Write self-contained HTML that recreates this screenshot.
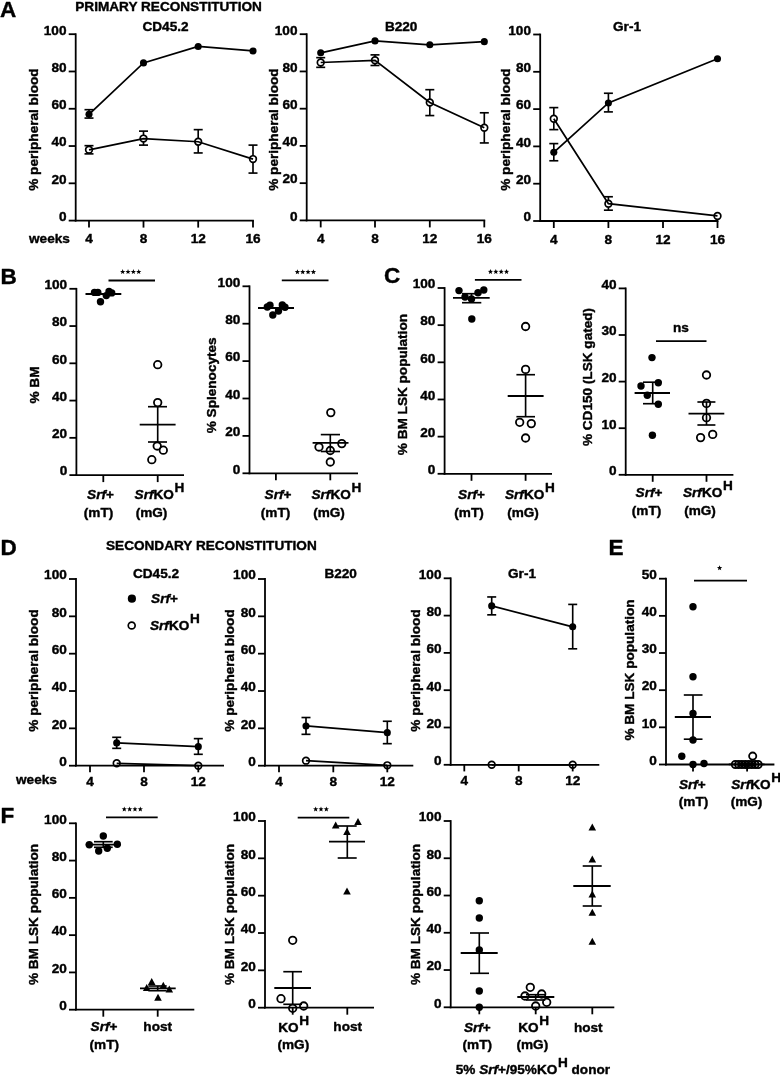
<!DOCTYPE html>
<html><head><meta charset="utf-8"><title>Figure</title>
<style>
html,body{margin:0;padding:0;background:#fff;}
svg{display:block;will-change:transform;filter:grayscale(1);}
text{font-family:"Liberation Sans",sans-serif;font-weight:bold;fill:#000;stroke:#000;stroke-width:0.4px;stroke-linejoin:round;}
</style></head><body>
<svg width="780" height="1076" viewBox="0 0 780 1076">
<rect width="780" height="1076" fill="#fff"/>
<text x="0.00" y="16.50" font-size="22.5" text-anchor="start" >A</text>
<text x="75.30" y="10.60" font-size="13.6" text-anchor="start" >PRIMARY RECONSTITUTION</text>
<line x1="75.70" y1="33.30" x2="75.70" y2="221.50" stroke="#000" stroke-width="1.8"/>
<line x1="74.80" y1="220.60" x2="253.90" y2="220.60" stroke="#000" stroke-width="1.8"/>
<line x1="68.70" y1="34.20" x2="75.70" y2="34.20" stroke="#000" stroke-width="1.8"/>
<text x="66.50" y="34.50" font-size="13.6" text-anchor="end" >100</text>
<line x1="68.70" y1="71.48" x2="75.70" y2="71.48" stroke="#000" stroke-width="1.8"/>
<text x="66.50" y="71.78" font-size="13.6" text-anchor="end" >80</text>
<line x1="68.70" y1="108.76" x2="75.70" y2="108.76" stroke="#000" stroke-width="1.8"/>
<text x="66.50" y="109.06" font-size="13.6" text-anchor="end" >60</text>
<line x1="68.70" y1="146.04" x2="75.70" y2="146.04" stroke="#000" stroke-width="1.8"/>
<text x="66.50" y="146.34" font-size="13.6" text-anchor="end" >40</text>
<line x1="68.70" y1="183.32" x2="75.70" y2="183.32" stroke="#000" stroke-width="1.8"/>
<text x="66.50" y="183.62" font-size="13.6" text-anchor="end" >20</text>
<line x1="68.70" y1="220.60" x2="75.70" y2="220.60" stroke="#000" stroke-width="1.8"/>
<text x="66.50" y="220.90" font-size="13.6" text-anchor="end" >0</text>
<line x1="89.00" y1="220.60" x2="89.00" y2="227.60" stroke="#000" stroke-width="1.8"/>
<text x="89.00" y="243.10" font-size="13.6" text-anchor="middle" >4</text>
<line x1="143.50" y1="220.60" x2="143.50" y2="227.60" stroke="#000" stroke-width="1.8"/>
<text x="143.50" y="243.10" font-size="13.6" text-anchor="middle" >8</text>
<line x1="198.20" y1="220.60" x2="198.20" y2="227.60" stroke="#000" stroke-width="1.8"/>
<text x="198.20" y="243.10" font-size="13.6" text-anchor="middle" >12</text>
<line x1="253.00" y1="220.60" x2="253.00" y2="227.60" stroke="#000" stroke-width="1.8"/>
<text x="253.00" y="243.10" font-size="13.6" text-anchor="middle" >16</text>
<text x="165.50" y="31.00" font-size="13.6" text-anchor="middle" >CD45.2</text>
<text transform="translate(38.00,129.60) rotate(-90)" font-size="13.6" text-anchor="middle">% peripheral blood</text>
<text x="29.00" y="243.20" font-size="13.6" text-anchor="start" >weeks</text>
<line x1="89.00" y1="118.08" x2="89.00" y2="109.69" stroke="#000" stroke-width="1.65"/>
<line x1="84.50" y1="118.08" x2="93.50" y2="118.08" stroke="#000" stroke-width="1.65"/>
<line x1="84.50" y1="109.69" x2="93.50" y2="109.69" stroke="#000" stroke-width="1.65"/>
<line x1="89.00" y1="153.87" x2="89.00" y2="145.67" stroke="#000" stroke-width="1.65"/>
<line x1="84.50" y1="153.87" x2="93.50" y2="153.87" stroke="#000" stroke-width="1.65"/>
<line x1="84.50" y1="145.67" x2="93.50" y2="145.67" stroke="#000" stroke-width="1.65"/>
<line x1="143.50" y1="145.11" x2="143.50" y2="131.13" stroke="#000" stroke-width="1.65"/>
<line x1="139.00" y1="145.11" x2="148.00" y2="145.11" stroke="#000" stroke-width="1.65"/>
<line x1="139.00" y1="131.13" x2="148.00" y2="131.13" stroke="#000" stroke-width="1.65"/>
<line x1="198.20" y1="152.94" x2="198.20" y2="129.64" stroke="#000" stroke-width="1.65"/>
<line x1="193.70" y1="152.94" x2="202.70" y2="152.94" stroke="#000" stroke-width="1.65"/>
<line x1="193.70" y1="129.64" x2="202.70" y2="129.64" stroke="#000" stroke-width="1.65"/>
<line x1="253.00" y1="173.07" x2="253.00" y2="145.11" stroke="#000" stroke-width="1.65"/>
<line x1="248.50" y1="173.07" x2="257.50" y2="173.07" stroke="#000" stroke-width="1.65"/>
<line x1="248.50" y1="145.11" x2="257.50" y2="145.11" stroke="#000" stroke-width="1.65"/>
<circle cx="89.00" cy="149.77" r="3.35" fill="#fff" stroke="#000" stroke-width="1.7"/>
<circle cx="143.50" cy="138.58" r="3.35" fill="#fff" stroke="#000" stroke-width="1.7"/>
<circle cx="198.20" cy="141.75" r="3.35" fill="#fff" stroke="#000" stroke-width="1.7"/>
<circle cx="253.00" cy="159.09" r="3.35" fill="#fff" stroke="#000" stroke-width="1.7"/>
<polyline fill="none" stroke="#000" stroke-width="1.75" points="89.00,114.35 143.50,62.91 198.20,46.50 253.00,50.98"/>
<polyline fill="none" stroke="#000" stroke-width="1.75" points="89.00,149.77 143.50,138.58 198.20,141.75 253.00,159.09"/>
<circle cx="89.00" cy="114.35" r="3.55" fill="#000"/>
<circle cx="143.50" cy="62.91" r="3.55" fill="#000"/>
<circle cx="198.20" cy="46.50" r="3.55" fill="#000"/>
<circle cx="253.00" cy="50.98" r="3.55" fill="#000"/>
<line x1="306.70" y1="33.30" x2="306.70" y2="221.30" stroke="#000" stroke-width="1.8"/>
<line x1="305.80" y1="220.40" x2="485.20" y2="220.40" stroke="#000" stroke-width="1.8"/>
<line x1="299.70" y1="34.20" x2="306.70" y2="34.20" stroke="#000" stroke-width="1.8"/>
<text x="297.50" y="34.50" font-size="13.6" text-anchor="end" >100</text>
<line x1="299.70" y1="71.44" x2="306.70" y2="71.44" stroke="#000" stroke-width="1.8"/>
<text x="297.50" y="71.74" font-size="13.6" text-anchor="end" >80</text>
<line x1="299.70" y1="108.68" x2="306.70" y2="108.68" stroke="#000" stroke-width="1.8"/>
<text x="297.50" y="108.98" font-size="13.6" text-anchor="end" >60</text>
<line x1="299.70" y1="145.92" x2="306.70" y2="145.92" stroke="#000" stroke-width="1.8"/>
<text x="297.50" y="146.22" font-size="13.6" text-anchor="end" >40</text>
<line x1="299.70" y1="183.16" x2="306.70" y2="183.16" stroke="#000" stroke-width="1.8"/>
<text x="297.50" y="183.46" font-size="13.6" text-anchor="end" >20</text>
<line x1="299.70" y1="220.40" x2="306.70" y2="220.40" stroke="#000" stroke-width="1.8"/>
<text x="297.50" y="220.70" font-size="13.6" text-anchor="end" >0</text>
<line x1="320.70" y1="220.40" x2="320.70" y2="227.40" stroke="#000" stroke-width="1.8"/>
<text x="320.70" y="242.90" font-size="13.6" text-anchor="middle" >4</text>
<line x1="375.00" y1="220.40" x2="375.00" y2="227.40" stroke="#000" stroke-width="1.8"/>
<text x="375.00" y="242.90" font-size="13.6" text-anchor="middle" >8</text>
<line x1="429.80" y1="220.40" x2="429.80" y2="227.40" stroke="#000" stroke-width="1.8"/>
<text x="429.80" y="242.90" font-size="13.6" text-anchor="middle" >12</text>
<line x1="484.30" y1="220.40" x2="484.30" y2="227.40" stroke="#000" stroke-width="1.8"/>
<text x="484.30" y="242.90" font-size="13.6" text-anchor="middle" >16</text>
<text x="401.20" y="31.00" font-size="13.6" text-anchor="middle" >B220</text>
<text transform="translate(277.50,129.60) rotate(-90)" font-size="13.6" text-anchor="middle">% peripheral blood</text>
<line x1="320.70" y1="67.34" x2="320.70" y2="57.66" stroke="#000" stroke-width="1.65"/>
<line x1="316.20" y1="67.34" x2="325.20" y2="67.34" stroke="#000" stroke-width="1.65"/>
<line x1="316.20" y1="57.66" x2="325.20" y2="57.66" stroke="#000" stroke-width="1.65"/>
<line x1="375.00" y1="65.48" x2="375.00" y2="54.87" stroke="#000" stroke-width="1.65"/>
<line x1="370.50" y1="65.48" x2="379.50" y2="65.48" stroke="#000" stroke-width="1.65"/>
<line x1="370.50" y1="54.87" x2="379.50" y2="54.87" stroke="#000" stroke-width="1.65"/>
<line x1="429.80" y1="115.57" x2="429.80" y2="89.69" stroke="#000" stroke-width="1.65"/>
<line x1="425.30" y1="115.57" x2="434.30" y2="115.57" stroke="#000" stroke-width="1.65"/>
<line x1="425.30" y1="89.69" x2="434.30" y2="89.69" stroke="#000" stroke-width="1.65"/>
<line x1="484.30" y1="142.94" x2="484.30" y2="112.78" stroke="#000" stroke-width="1.65"/>
<line x1="479.80" y1="142.94" x2="488.80" y2="142.94" stroke="#000" stroke-width="1.65"/>
<line x1="479.80" y1="112.78" x2="488.80" y2="112.78" stroke="#000" stroke-width="1.65"/>
<circle cx="320.70" cy="62.50" r="3.35" fill="#fff" stroke="#000" stroke-width="1.7"/>
<circle cx="375.00" cy="60.27" r="3.35" fill="#fff" stroke="#000" stroke-width="1.7"/>
<circle cx="429.80" cy="102.54" r="3.35" fill="#fff" stroke="#000" stroke-width="1.7"/>
<circle cx="484.30" cy="127.67" r="3.35" fill="#fff" stroke="#000" stroke-width="1.7"/>
<polyline fill="none" stroke="#000" stroke-width="1.75" points="320.70,52.82 375.00,40.90 429.80,44.81 484.30,41.65"/>
<polyline fill="none" stroke="#000" stroke-width="1.75" points="320.70,62.50 375.00,60.27 429.80,102.54 484.30,127.67"/>
<circle cx="320.70" cy="52.82" r="3.55" fill="#000"/>
<circle cx="375.00" cy="40.90" r="3.55" fill="#000"/>
<circle cx="429.80" cy="44.81" r="3.55" fill="#000"/>
<circle cx="484.30" cy="41.65" r="3.55" fill="#000"/>
<line x1="540.20" y1="33.60" x2="540.20" y2="221.90" stroke="#000" stroke-width="1.8"/>
<line x1="539.30" y1="221.00" x2="718.40" y2="221.00" stroke="#000" stroke-width="1.8"/>
<line x1="533.20" y1="34.50" x2="540.20" y2="34.50" stroke="#000" stroke-width="1.8"/>
<text x="531.00" y="34.80" font-size="13.6" text-anchor="end" >100</text>
<line x1="533.20" y1="71.80" x2="540.20" y2="71.80" stroke="#000" stroke-width="1.8"/>
<text x="531.00" y="72.10" font-size="13.6" text-anchor="end" >80</text>
<line x1="533.20" y1="109.10" x2="540.20" y2="109.10" stroke="#000" stroke-width="1.8"/>
<text x="531.00" y="109.40" font-size="13.6" text-anchor="end" >60</text>
<line x1="533.20" y1="146.40" x2="540.20" y2="146.40" stroke="#000" stroke-width="1.8"/>
<text x="531.00" y="146.70" font-size="13.6" text-anchor="end" >40</text>
<line x1="533.20" y1="183.70" x2="540.20" y2="183.70" stroke="#000" stroke-width="1.8"/>
<text x="531.00" y="184.00" font-size="13.6" text-anchor="end" >20</text>
<line x1="533.20" y1="221.00" x2="540.20" y2="221.00" stroke="#000" stroke-width="1.8"/>
<text x="531.00" y="221.30" font-size="13.6" text-anchor="end" >0</text>
<line x1="553.80" y1="221.00" x2="553.80" y2="228.00" stroke="#000" stroke-width="1.8"/>
<text x="553.80" y="243.50" font-size="13.6" text-anchor="middle" >4</text>
<line x1="608.40" y1="221.00" x2="608.40" y2="228.00" stroke="#000" stroke-width="1.8"/>
<text x="608.40" y="243.50" font-size="13.6" text-anchor="middle" >8</text>
<line x1="663.00" y1="221.00" x2="663.00" y2="228.00" stroke="#000" stroke-width="1.8"/>
<text x="663.00" y="243.50" font-size="13.6" text-anchor="middle" >12</text>
<line x1="717.50" y1="221.00" x2="717.50" y2="228.00" stroke="#000" stroke-width="1.8"/>
<text x="717.50" y="243.50" font-size="13.6" text-anchor="middle" >16</text>
<text x="627.00" y="31.00" font-size="13.6" text-anchor="middle" >Gr-1</text>
<text transform="translate(510.00,129.60) rotate(-90)" font-size="13.6" text-anchor="middle">% peripheral blood</text>
<line x1="553.80" y1="160.76" x2="553.80" y2="143.60" stroke="#000" stroke-width="1.65"/>
<line x1="549.30" y1="160.76" x2="558.30" y2="160.76" stroke="#000" stroke-width="1.65"/>
<line x1="549.30" y1="143.60" x2="558.30" y2="143.60" stroke="#000" stroke-width="1.65"/>
<line x1="608.40" y1="111.90" x2="608.40" y2="93.25" stroke="#000" stroke-width="1.65"/>
<line x1="603.90" y1="111.90" x2="612.90" y2="111.90" stroke="#000" stroke-width="1.65"/>
<line x1="603.90" y1="93.25" x2="612.90" y2="93.25" stroke="#000" stroke-width="1.65"/>
<line x1="553.80" y1="129.62" x2="553.80" y2="107.61" stroke="#000" stroke-width="1.65"/>
<line x1="549.30" y1="129.62" x2="558.30" y2="129.62" stroke="#000" stroke-width="1.65"/>
<line x1="549.30" y1="107.61" x2="558.30" y2="107.61" stroke="#000" stroke-width="1.65"/>
<line x1="608.40" y1="210.18" x2="608.40" y2="196.75" stroke="#000" stroke-width="1.65"/>
<line x1="603.90" y1="210.18" x2="612.90" y2="210.18" stroke="#000" stroke-width="1.65"/>
<line x1="603.90" y1="196.75" x2="612.90" y2="196.75" stroke="#000" stroke-width="1.65"/>
<circle cx="553.80" cy="118.80" r="3.35" fill="#fff" stroke="#000" stroke-width="1.7"/>
<circle cx="608.40" cy="203.66" r="3.35" fill="#fff" stroke="#000" stroke-width="1.7"/>
<circle cx="717.50" cy="215.96" r="3.35" fill="#fff" stroke="#000" stroke-width="1.7"/>
<polyline fill="none" stroke="#000" stroke-width="1.75" points="553.80,152.37 608.40,102.95 717.50,58.75"/>
<polyline fill="none" stroke="#000" stroke-width="1.75" points="553.80,118.80 608.40,203.66 717.50,215.96"/>
<circle cx="553.80" cy="152.37" r="3.55" fill="#000"/>
<circle cx="608.40" cy="102.95" r="3.55" fill="#000"/>
<circle cx="717.50" cy="58.75" r="3.55" fill="#000"/>
<text x="0.50" y="283.80" font-size="22.5" text-anchor="start" >B</text>
<line x1="76.40" y1="287.90" x2="76.40" y2="476.00" stroke="#000" stroke-width="1.8"/>
<line x1="75.50" y1="475.10" x2="184.00" y2="475.10" stroke="#000" stroke-width="1.8"/>
<line x1="69.40" y1="288.80" x2="76.40" y2="288.80" stroke="#000" stroke-width="1.8"/>
<text x="67.20" y="289.10" font-size="13.6" text-anchor="end" >100</text>
<line x1="69.40" y1="326.06" x2="76.40" y2="326.06" stroke="#000" stroke-width="1.8"/>
<text x="67.20" y="326.36" font-size="13.6" text-anchor="end" >80</text>
<line x1="69.40" y1="363.32" x2="76.40" y2="363.32" stroke="#000" stroke-width="1.8"/>
<text x="67.20" y="363.62" font-size="13.6" text-anchor="end" >60</text>
<line x1="69.40" y1="400.58" x2="76.40" y2="400.58" stroke="#000" stroke-width="1.8"/>
<text x="67.20" y="400.88" font-size="13.6" text-anchor="end" >40</text>
<line x1="69.40" y1="437.84" x2="76.40" y2="437.84" stroke="#000" stroke-width="1.8"/>
<text x="67.20" y="438.14" font-size="13.6" text-anchor="end" >20</text>
<line x1="69.40" y1="475.10" x2="76.40" y2="475.10" stroke="#000" stroke-width="1.8"/>
<text x="67.20" y="475.40" font-size="13.6" text-anchor="end" >0</text>
<line x1="103.30" y1="475.10" x2="103.30" y2="482.10" stroke="#000" stroke-width="1.8"/>
<line x1="157.70" y1="475.10" x2="157.70" y2="482.10" stroke="#000" stroke-width="1.8"/>
<text transform="translate(38.50,385.00) rotate(-90)" font-size="13.6" text-anchor="middle">% BM</text>
<circle cx="94.50" cy="292.40" r="3.7" fill="#000"/>
<circle cx="97.80" cy="292.40" r="3.7" fill="#000"/>
<circle cx="109.00" cy="291.50" r="3.7" fill="#000"/>
<circle cx="111.70" cy="292.90" r="3.7" fill="#000"/>
<circle cx="106.30" cy="295.60" r="3.7" fill="#000"/>
<circle cx="100.50" cy="301.80" r="3.7" fill="#000"/>
<line x1="85.50" y1="294.00" x2="121.30" y2="294.00" stroke="#000" stroke-width="1.8"/>
<line x1="108.50" y1="280.50" x2="155.00" y2="280.50" stroke="#000" stroke-width="1.8"/>
<polygon points="122.67,269.10 123.35,270.92 125.29,271.00 123.77,272.21 124.29,274.07 122.67,273.00 121.06,274.07 121.58,272.21 120.06,271.00 122.00,270.92" fill="#000"/>
<polygon points="128.02,269.10 128.70,270.92 130.64,271.00 129.12,272.21 129.64,274.07 128.02,273.00 126.41,274.07 126.93,272.21 125.41,271.00 127.35,270.92" fill="#000"/>
<polygon points="133.38,269.10 134.05,270.92 135.99,271.00 134.47,272.21 134.99,274.07 133.38,273.00 131.76,274.07 132.28,272.21 130.76,271.00 132.70,270.92" fill="#000"/>
<polygon points="138.72,269.10 139.40,270.92 141.34,271.00 139.82,272.21 140.34,274.07 138.72,273.00 137.11,274.07 137.63,272.21 136.11,271.00 138.05,270.92" fill="#000"/>
<circle cx="157.70" cy="364.70" r="3.75" fill="none" stroke="#000" stroke-width="1.8"/>
<circle cx="157.70" cy="402.60" r="3.75" fill="none" stroke="#000" stroke-width="1.8"/>
<circle cx="157.20" cy="446.00" r="3.75" fill="none" stroke="#000" stroke-width="1.8"/>
<circle cx="163.30" cy="450.20" r="3.75" fill="none" stroke="#000" stroke-width="1.8"/>
<circle cx="151.80" cy="459.70" r="3.75" fill="none" stroke="#000" stroke-width="1.8"/>
<line x1="139.70" y1="424.60" x2="175.60" y2="424.60" stroke="#000" stroke-width="1.8"/>
<line x1="157.70" y1="406.70" x2="157.70" y2="442.00" stroke="#000" stroke-width="1.65"/>
<line x1="148.00" y1="406.70" x2="167.00" y2="406.70" stroke="#000" stroke-width="1.65"/>
<line x1="148.00" y1="442.00" x2="167.00" y2="442.00" stroke="#000" stroke-width="1.65"/>
<text x="100.50" y="499.30" font-size="13.6" text-anchor="middle" ><tspan font-style="italic">Srf</tspan>+</text>
<text x="98.50" y="517.20" font-size="13.6" text-anchor="middle" >(mT)</text>
<text x="134.60" y="499.30" font-size="13.6" text-anchor="start"><tspan font-style="italic">Srf</tspan>KO<tspan dy="-7" dx="0.6" font-size="13.6">H</tspan></text>
<text x="151.50" y="517.20" font-size="13.6" text-anchor="middle" >(mG)</text>
<line x1="249.50" y1="285.40" x2="249.50" y2="474.20" stroke="#000" stroke-width="1.8"/>
<line x1="248.60" y1="473.30" x2="358.00" y2="473.30" stroke="#000" stroke-width="1.8"/>
<line x1="242.50" y1="286.30" x2="249.50" y2="286.30" stroke="#000" stroke-width="1.8"/>
<text x="240.30" y="286.60" font-size="13.6" text-anchor="end" >100</text>
<line x1="242.50" y1="323.70" x2="249.50" y2="323.70" stroke="#000" stroke-width="1.8"/>
<text x="240.30" y="324.00" font-size="13.6" text-anchor="end" >80</text>
<line x1="242.50" y1="361.10" x2="249.50" y2="361.10" stroke="#000" stroke-width="1.8"/>
<text x="240.30" y="361.40" font-size="13.6" text-anchor="end" >60</text>
<line x1="242.50" y1="398.50" x2="249.50" y2="398.50" stroke="#000" stroke-width="1.8"/>
<text x="240.30" y="398.80" font-size="13.6" text-anchor="end" >40</text>
<line x1="242.50" y1="435.90" x2="249.50" y2="435.90" stroke="#000" stroke-width="1.8"/>
<text x="240.30" y="436.20" font-size="13.6" text-anchor="end" >20</text>
<line x1="242.50" y1="473.30" x2="249.50" y2="473.30" stroke="#000" stroke-width="1.8"/>
<text x="240.30" y="473.60" font-size="13.6" text-anchor="end" >0</text>
<line x1="275.90" y1="473.30" x2="275.90" y2="480.30" stroke="#000" stroke-width="1.8"/>
<line x1="330.30" y1="473.30" x2="330.30" y2="480.30" stroke="#000" stroke-width="1.8"/>
<text transform="translate(215.70,385.30) rotate(-90)" font-size="13.6" text-anchor="middle">% Splenocytes</text>
<circle cx="267.30" cy="307.00" r="3.7" fill="#000"/>
<circle cx="270.00" cy="305.30" r="3.7" fill="#000"/>
<circle cx="282.30" cy="305.00" r="3.7" fill="#000"/>
<circle cx="285.00" cy="307.30" r="3.7" fill="#000"/>
<circle cx="278.50" cy="311.00" r="3.7" fill="#000"/>
<circle cx="272.80" cy="315.00" r="3.7" fill="#000"/>
<line x1="258.00" y1="308.00" x2="294.00" y2="308.00" stroke="#000" stroke-width="1.8"/>
<line x1="281.80" y1="280.40" x2="328.50" y2="280.40" stroke="#000" stroke-width="1.8"/>
<polygon points="297.38,269.30 298.05,271.12 299.99,271.20 298.47,272.41 298.99,274.27 297.38,273.20 295.76,274.27 296.28,272.41 294.76,271.20 296.70,271.12" fill="#000"/>
<polygon points="302.72,269.30 303.40,271.12 305.34,271.20 303.82,272.41 304.34,274.27 302.72,273.20 301.11,274.27 301.63,272.41 300.11,271.20 302.05,271.12" fill="#000"/>
<polygon points="308.07,269.30 308.75,271.12 310.69,271.20 309.17,272.41 309.69,274.27 308.07,273.20 306.46,274.27 306.98,272.41 305.46,271.20 307.40,271.12" fill="#000"/>
<polygon points="313.42,269.30 314.10,271.12 316.04,271.20 314.52,272.41 315.04,274.27 313.42,273.20 311.81,274.27 312.33,272.41 310.81,271.20 312.75,271.12" fill="#000"/>
<circle cx="330.80" cy="412.60" r="3.75" fill="none" stroke="#000" stroke-width="1.8"/>
<circle cx="341.80" cy="443.60" r="3.75" fill="none" stroke="#000" stroke-width="1.8"/>
<circle cx="319.00" cy="447.00" r="3.75" fill="none" stroke="#000" stroke-width="1.8"/>
<circle cx="330.30" cy="450.50" r="3.75" fill="none" stroke="#000" stroke-width="1.8"/>
<circle cx="330.30" cy="462.00" r="3.75" fill="none" stroke="#000" stroke-width="1.8"/>
<line x1="312.60" y1="442.80" x2="348.50" y2="442.80" stroke="#000" stroke-width="1.8"/>
<line x1="330.30" y1="434.60" x2="330.30" y2="451.50" stroke="#000" stroke-width="1.65"/>
<line x1="320.80" y1="434.60" x2="340.00" y2="434.60" stroke="#000" stroke-width="1.65"/>
<line x1="320.80" y1="451.50" x2="340.00" y2="451.50" stroke="#000" stroke-width="1.65"/>
<text x="278.00" y="499.30" font-size="13.6" text-anchor="middle" ><tspan font-style="italic">Srf</tspan>+</text>
<text x="275.50" y="517.20" font-size="13.6" text-anchor="middle" >(mT)</text>
<text x="311.50" y="499.30" font-size="13.6" text-anchor="start"><tspan font-style="italic">Srf</tspan>KO<tspan dy="-7" dx="0.6" font-size="13.6">H</tspan></text>
<text x="329.00" y="517.20" font-size="13.6" text-anchor="middle" >(mG)</text>
<text x="384.00" y="283.20" font-size="22.5" text-anchor="start" >C</text>
<line x1="444.60" y1="287.10" x2="444.60" y2="474.70" stroke="#000" stroke-width="1.8"/>
<line x1="443.70" y1="473.80" x2="552.00" y2="473.80" stroke="#000" stroke-width="1.8"/>
<line x1="437.60" y1="288.00" x2="444.60" y2="288.00" stroke="#000" stroke-width="1.8"/>
<text x="435.40" y="288.30" font-size="13.6" text-anchor="end" >100</text>
<line x1="437.60" y1="325.16" x2="444.60" y2="325.16" stroke="#000" stroke-width="1.8"/>
<text x="435.40" y="325.46" font-size="13.6" text-anchor="end" >80</text>
<line x1="437.60" y1="362.32" x2="444.60" y2="362.32" stroke="#000" stroke-width="1.8"/>
<text x="435.40" y="362.62" font-size="13.6" text-anchor="end" >60</text>
<line x1="437.60" y1="399.48" x2="444.60" y2="399.48" stroke="#000" stroke-width="1.8"/>
<text x="435.40" y="399.78" font-size="13.6" text-anchor="end" >40</text>
<line x1="437.60" y1="436.64" x2="444.60" y2="436.64" stroke="#000" stroke-width="1.8"/>
<text x="435.40" y="436.94" font-size="13.6" text-anchor="end" >20</text>
<line x1="437.60" y1="473.80" x2="444.60" y2="473.80" stroke="#000" stroke-width="1.8"/>
<text x="435.40" y="474.10" font-size="13.6" text-anchor="end" >0</text>
<line x1="471.50" y1="473.80" x2="471.50" y2="480.80" stroke="#000" stroke-width="1.8"/>
<line x1="525.60" y1="473.80" x2="525.60" y2="480.80" stroke="#000" stroke-width="1.8"/>
<text transform="translate(407.00,384.60) rotate(-90)" font-size="13.6" text-anchor="middle">% BM LSK population</text>
<circle cx="459.00" cy="290.60" r="3.7" fill="#000"/>
<circle cx="483.80" cy="290.00" r="3.7" fill="#000"/>
<circle cx="478.00" cy="292.70" r="3.7" fill="#000"/>
<circle cx="465.00" cy="297.00" r="3.7" fill="#000"/>
<circle cx="471.50" cy="299.00" r="3.7" fill="#000"/>
<circle cx="471.80" cy="319.00" r="3.7" fill="#000"/>
<line x1="453.00" y1="297.80" x2="489.70" y2="297.80" stroke="#000" stroke-width="1.8"/>
<line x1="471.50" y1="293.70" x2="471.50" y2="302.70" stroke="#000" stroke-width="1.65"/>
<line x1="462.00" y1="293.70" x2="481.30" y2="293.70" stroke="#000" stroke-width="1.65"/>
<line x1="462.00" y1="302.70" x2="481.30" y2="302.70" stroke="#000" stroke-width="1.65"/>
<line x1="474.90" y1="279.90" x2="521.50" y2="279.90" stroke="#000" stroke-width="1.8"/>
<polygon points="490.48,269.00 491.15,270.82 493.09,270.90 491.57,272.11 492.09,273.97 490.48,272.90 488.86,273.97 489.38,272.11 487.86,270.90 489.80,270.82" fill="#000"/>
<polygon points="495.82,269.00 496.50,270.82 498.44,270.90 496.92,272.11 497.44,273.97 495.82,272.90 494.21,273.97 494.73,272.11 493.21,270.90 495.15,270.82" fill="#000"/>
<polygon points="501.18,269.00 501.85,270.82 503.79,270.90 502.27,272.11 502.79,273.97 501.18,272.90 499.56,273.97 500.08,272.11 498.56,270.90 500.50,270.82" fill="#000"/>
<polygon points="506.52,269.00 507.20,270.82 509.14,270.90 507.62,272.11 508.14,273.97 506.52,272.90 504.91,273.97 505.43,272.11 503.91,270.90 505.85,270.82" fill="#000"/>
<circle cx="525.60" cy="326.50" r="3.75" fill="none" stroke="#000" stroke-width="1.8"/>
<circle cx="525.60" cy="369.40" r="3.75" fill="none" stroke="#000" stroke-width="1.8"/>
<circle cx="519.70" cy="422.30" r="3.75" fill="none" stroke="#000" stroke-width="1.8"/>
<circle cx="531.30" cy="423.60" r="3.75" fill="none" stroke="#000" stroke-width="1.8"/>
<circle cx="525.60" cy="438.00" r="3.75" fill="none" stroke="#000" stroke-width="1.8"/>
<line x1="507.70" y1="396.00" x2="543.60" y2="396.00" stroke="#000" stroke-width="1.8"/>
<line x1="525.60" y1="374.70" x2="525.60" y2="416.70" stroke="#000" stroke-width="1.65"/>
<line x1="516.40" y1="374.70" x2="535.00" y2="374.70" stroke="#000" stroke-width="1.65"/>
<line x1="516.40" y1="416.70" x2="535.00" y2="416.70" stroke="#000" stroke-width="1.65"/>
<text x="471.50" y="498.50" font-size="13.6" text-anchor="middle" ><tspan font-style="italic">Srf</tspan>+</text>
<text x="469.00" y="516.50" font-size="13.6" text-anchor="middle" >(mT)</text>
<text x="505.00" y="498.50" font-size="13.6" text-anchor="start"><tspan font-style="italic">Srf</tspan>KO<tspan dy="-7" dx="0.6" font-size="13.6">H</tspan></text>
<text x="523.00" y="516.50" font-size="13.6" text-anchor="middle" >(mG)</text>
<line x1="625.70" y1="287.50" x2="625.70" y2="475.70" stroke="#000" stroke-width="1.8"/>
<line x1="624.80" y1="474.80" x2="733.40" y2="474.80" stroke="#000" stroke-width="1.8"/>
<line x1="618.70" y1="288.40" x2="625.70" y2="288.40" stroke="#000" stroke-width="1.8"/>
<text x="616.50" y="288.70" font-size="13.6" text-anchor="end" >40</text>
<line x1="618.70" y1="335.00" x2="625.70" y2="335.00" stroke="#000" stroke-width="1.8"/>
<text x="616.50" y="335.30" font-size="13.6" text-anchor="end" >30</text>
<line x1="618.70" y1="381.60" x2="625.70" y2="381.60" stroke="#000" stroke-width="1.8"/>
<text x="616.50" y="381.90" font-size="13.6" text-anchor="end" >20</text>
<line x1="618.70" y1="428.20" x2="625.70" y2="428.20" stroke="#000" stroke-width="1.8"/>
<text x="616.50" y="428.50" font-size="13.6" text-anchor="end" >10</text>
<line x1="618.70" y1="474.80" x2="625.70" y2="474.80" stroke="#000" stroke-width="1.8"/>
<text x="616.50" y="475.10" font-size="13.6" text-anchor="end" >0</text>
<line x1="652.70" y1="474.80" x2="652.70" y2="481.80" stroke="#000" stroke-width="1.8"/>
<line x1="706.50" y1="474.80" x2="706.50" y2="481.80" stroke="#000" stroke-width="1.8"/>
<text transform="translate(591.50,377.00) rotate(-90)" font-size="13.6" text-anchor="middle">% CD150 (LSK gated)</text>
<circle cx="652.00" cy="357.60" r="3.7" fill="#000"/>
<circle cx="658.30" cy="382.70" r="3.7" fill="#000"/>
<circle cx="641.00" cy="386.00" r="3.7" fill="#000"/>
<circle cx="647.30" cy="395.30" r="3.7" fill="#000"/>
<circle cx="658.30" cy="404.20" r="3.7" fill="#000"/>
<circle cx="652.40" cy="435.20" r="3.7" fill="#000"/>
<line x1="634.60" y1="393.00" x2="670.00" y2="393.00" stroke="#000" stroke-width="1.8"/>
<line x1="652.70" y1="382.20" x2="652.70" y2="403.70" stroke="#000" stroke-width="1.65"/>
<line x1="643.00" y1="382.20" x2="661.50" y2="382.20" stroke="#000" stroke-width="1.65"/>
<line x1="643.00" y1="403.70" x2="661.50" y2="403.70" stroke="#000" stroke-width="1.65"/>
<line x1="656.00" y1="341.20" x2="706.50" y2="341.20" stroke="#000" stroke-width="1.8"/>
<text x="681.00" y="332.30" font-size="13.6" text-anchor="middle" >ns</text>
<circle cx="706.50" cy="375.00" r="3.75" fill="none" stroke="#000" stroke-width="1.8"/>
<circle cx="706.50" cy="403.40" r="3.75" fill="none" stroke="#000" stroke-width="1.8"/>
<circle cx="706.50" cy="417.70" r="3.75" fill="none" stroke="#000" stroke-width="1.8"/>
<circle cx="712.70" cy="434.40" r="3.75" fill="none" stroke="#000" stroke-width="1.8"/>
<circle cx="700.60" cy="437.60" r="3.75" fill="none" stroke="#000" stroke-width="1.8"/>
<line x1="688.50" y1="413.70" x2="724.30" y2="413.70" stroke="#000" stroke-width="1.8"/>
<line x1="706.50" y1="402.00" x2="706.50" y2="425.00" stroke="#000" stroke-width="1.65"/>
<line x1="697.40" y1="402.00" x2="715.40" y2="402.00" stroke="#000" stroke-width="1.65"/>
<line x1="697.40" y1="425.00" x2="715.40" y2="425.00" stroke="#000" stroke-width="1.65"/>
<text x="649.00" y="497.30" font-size="13.6" text-anchor="middle" ><tspan font-style="italic">Srf</tspan>+</text>
<text x="646.50" y="515.00" font-size="13.6" text-anchor="middle" >(mT)</text>
<text x="683.00" y="497.30" font-size="13.6" text-anchor="start"><tspan font-style="italic">Srf</tspan>KO<tspan dy="-7" dx="0.6" font-size="13.6">H</tspan></text>
<text x="700.00" y="515.00" font-size="13.6" text-anchor="middle" >(mG)</text>
<text x="0.50" y="555.30" font-size="22.5" text-anchor="start" >D</text>
<text x="106.00" y="550.40" font-size="13.6" text-anchor="start" >SECONDARY RECONSTITUTION</text>
<line x1="76.00" y1="578.10" x2="76.00" y2="766.60" stroke="#000" stroke-width="1.8"/>
<line x1="75.10" y1="765.70" x2="224.00" y2="765.70" stroke="#000" stroke-width="1.8"/>
<line x1="69.00" y1="579.00" x2="76.00" y2="579.00" stroke="#000" stroke-width="1.8"/>
<text x="66.80" y="579.30" font-size="13.6" text-anchor="end" >100</text>
<line x1="69.00" y1="616.34" x2="76.00" y2="616.34" stroke="#000" stroke-width="1.8"/>
<text x="66.80" y="616.64" font-size="13.6" text-anchor="end" >80</text>
<line x1="69.00" y1="653.68" x2="76.00" y2="653.68" stroke="#000" stroke-width="1.8"/>
<text x="66.80" y="653.98" font-size="13.6" text-anchor="end" >60</text>
<line x1="69.00" y1="691.02" x2="76.00" y2="691.02" stroke="#000" stroke-width="1.8"/>
<text x="66.80" y="691.32" font-size="13.6" text-anchor="end" >40</text>
<line x1="69.00" y1="728.36" x2="76.00" y2="728.36" stroke="#000" stroke-width="1.8"/>
<text x="66.80" y="728.66" font-size="13.6" text-anchor="end" >20</text>
<line x1="69.00" y1="765.70" x2="76.00" y2="765.70" stroke="#000" stroke-width="1.8"/>
<text x="66.80" y="766.00" font-size="13.6" text-anchor="end" >0</text>
<line x1="90.00" y1="765.70" x2="90.00" y2="772.30" stroke="#000" stroke-width="1.8"/>
<text x="90.00" y="785.70" font-size="13.6" text-anchor="middle" >4</text>
<line x1="144.00" y1="765.70" x2="144.00" y2="772.30" stroke="#000" stroke-width="1.8"/>
<text x="144.00" y="785.70" font-size="13.6" text-anchor="middle" >8</text>
<line x1="198.30" y1="765.70" x2="198.30" y2="772.30" stroke="#000" stroke-width="1.8"/>
<text x="198.30" y="785.70" font-size="13.6" text-anchor="middle" >12</text>
<text x="156.00" y="578.30" font-size="13.6" text-anchor="middle" >CD45.2</text>
<text transform="translate(38.30,670.50) rotate(-90)" font-size="13.6" text-anchor="middle">% peripheral blood</text>
<text x="16.00" y="784.30" font-size="13.6" text-anchor="start" >weeks</text>
<line x1="116.70" y1="748.34" x2="116.70" y2="737.32" stroke="#000" stroke-width="1.65"/>
<line x1="112.20" y1="748.34" x2="121.20" y2="748.34" stroke="#000" stroke-width="1.65"/>
<line x1="112.20" y1="737.32" x2="121.20" y2="737.32" stroke="#000" stroke-width="1.65"/>
<line x1="198.30" y1="754.31" x2="198.30" y2="738.63" stroke="#000" stroke-width="1.65"/>
<line x1="193.80" y1="754.31" x2="202.80" y2="754.31" stroke="#000" stroke-width="1.65"/>
<line x1="193.80" y1="738.63" x2="202.80" y2="738.63" stroke="#000" stroke-width="1.65"/>
<circle cx="116.70" cy="763.27" r="3.35" fill="none" stroke="#000" stroke-width="1.7"/>
<circle cx="198.30" cy="765.70" r="3.35" fill="none" stroke="#000" stroke-width="1.7"/>
<polyline fill="none" stroke="#000" stroke-width="1.75" points="116.70,742.92 198.30,746.66"/>
<polyline fill="none" stroke="#000" stroke-width="1.75" points="116.70,763.27 198.30,765.70"/>
<circle cx="116.70" cy="742.92" r="3.55" fill="#000"/>
<circle cx="198.30" cy="746.66" r="3.55" fill="#000"/>
<circle cx="131.90" cy="598.70" r="4.1" fill="#000"/>
<text x="164.50" y="602.50" font-size="13.6" text-anchor="middle" ><tspan font-style="italic">Srf</tspan>+</text>
<circle cx="131.70" cy="625.50" r="3.45" fill="none" stroke="#000" stroke-width="1.7"/>
<text x="150.00" y="630.30" font-size="13.6" text-anchor="start"><tspan font-style="italic">Srf</tspan>KO<tspan dy="-7" dx="0.6" font-size="13.6">H</tspan></text>
<line x1="265.00" y1="578.10" x2="265.00" y2="766.60" stroke="#000" stroke-width="1.8"/>
<line x1="264.10" y1="765.70" x2="413.30" y2="765.70" stroke="#000" stroke-width="1.8"/>
<line x1="258.00" y1="579.00" x2="265.00" y2="579.00" stroke="#000" stroke-width="1.8"/>
<text x="255.80" y="579.30" font-size="13.6" text-anchor="end" >100</text>
<line x1="258.00" y1="616.34" x2="265.00" y2="616.34" stroke="#000" stroke-width="1.8"/>
<text x="255.80" y="616.64" font-size="13.6" text-anchor="end" >80</text>
<line x1="258.00" y1="653.68" x2="265.00" y2="653.68" stroke="#000" stroke-width="1.8"/>
<text x="255.80" y="653.98" font-size="13.6" text-anchor="end" >60</text>
<line x1="258.00" y1="691.02" x2="265.00" y2="691.02" stroke="#000" stroke-width="1.8"/>
<text x="255.80" y="691.32" font-size="13.6" text-anchor="end" >40</text>
<line x1="258.00" y1="728.36" x2="265.00" y2="728.36" stroke="#000" stroke-width="1.8"/>
<text x="255.80" y="728.66" font-size="13.6" text-anchor="end" >20</text>
<line x1="258.00" y1="765.70" x2="265.00" y2="765.70" stroke="#000" stroke-width="1.8"/>
<text x="255.80" y="766.00" font-size="13.6" text-anchor="end" >0</text>
<line x1="279.00" y1="765.70" x2="279.00" y2="772.30" stroke="#000" stroke-width="1.8"/>
<text x="279.00" y="785.70" font-size="13.6" text-anchor="middle" >4</text>
<line x1="333.30" y1="765.70" x2="333.30" y2="772.30" stroke="#000" stroke-width="1.8"/>
<text x="333.30" y="785.70" font-size="13.6" text-anchor="middle" >8</text>
<line x1="387.30" y1="765.70" x2="387.30" y2="772.30" stroke="#000" stroke-width="1.8"/>
<text x="387.30" y="785.70" font-size="13.6" text-anchor="middle" >12</text>
<text x="340.70" y="578.30" font-size="13.6" text-anchor="middle" >B220</text>
<text transform="translate(234.00,670.50) rotate(-90)" font-size="13.6" text-anchor="middle">% peripheral blood</text>
<line x1="306.00" y1="734.33" x2="306.00" y2="717.53" stroke="#000" stroke-width="1.65"/>
<line x1="301.50" y1="734.33" x2="310.50" y2="734.33" stroke="#000" stroke-width="1.65"/>
<line x1="301.50" y1="717.53" x2="310.50" y2="717.53" stroke="#000" stroke-width="1.65"/>
<line x1="387.30" y1="743.67" x2="387.30" y2="721.27" stroke="#000" stroke-width="1.65"/>
<line x1="382.80" y1="743.67" x2="391.80" y2="743.67" stroke="#000" stroke-width="1.65"/>
<line x1="382.80" y1="721.27" x2="391.80" y2="721.27" stroke="#000" stroke-width="1.65"/>
<circle cx="306.00" cy="760.66" r="3.35" fill="none" stroke="#000" stroke-width="1.7"/>
<circle cx="387.30" cy="765.33" r="3.35" fill="none" stroke="#000" stroke-width="1.7"/>
<polyline fill="none" stroke="#000" stroke-width="1.75" points="306.00,725.93 387.30,732.65"/>
<polyline fill="none" stroke="#000" stroke-width="1.75" points="306.00,760.66 387.30,765.33"/>
<circle cx="306.00" cy="725.93" r="3.55" fill="#000"/>
<circle cx="387.30" cy="732.65" r="3.55" fill="#000"/>
<line x1="450.70" y1="577.40" x2="450.70" y2="765.70" stroke="#000" stroke-width="1.8"/>
<line x1="449.80" y1="764.80" x2="599.30" y2="764.80" stroke="#000" stroke-width="1.8"/>
<line x1="443.70" y1="578.30" x2="450.70" y2="578.30" stroke="#000" stroke-width="1.8"/>
<text x="441.50" y="578.60" font-size="13.6" text-anchor="end" >100</text>
<line x1="443.70" y1="615.60" x2="450.70" y2="615.60" stroke="#000" stroke-width="1.8"/>
<text x="441.50" y="615.90" font-size="13.6" text-anchor="end" >80</text>
<line x1="443.70" y1="652.90" x2="450.70" y2="652.90" stroke="#000" stroke-width="1.8"/>
<text x="441.50" y="653.20" font-size="13.6" text-anchor="end" >60</text>
<line x1="443.70" y1="690.20" x2="450.70" y2="690.20" stroke="#000" stroke-width="1.8"/>
<text x="441.50" y="690.50" font-size="13.6" text-anchor="end" >40</text>
<line x1="443.70" y1="727.50" x2="450.70" y2="727.50" stroke="#000" stroke-width="1.8"/>
<text x="441.50" y="727.80" font-size="13.6" text-anchor="end" >20</text>
<line x1="443.70" y1="764.80" x2="450.70" y2="764.80" stroke="#000" stroke-width="1.8"/>
<text x="441.50" y="765.10" font-size="13.6" text-anchor="end" >0</text>
<line x1="464.30" y1="764.80" x2="464.30" y2="771.40" stroke="#000" stroke-width="1.8"/>
<text x="464.30" y="784.80" font-size="13.6" text-anchor="middle" >4</text>
<line x1="518.70" y1="764.80" x2="518.70" y2="771.40" stroke="#000" stroke-width="1.8"/>
<text x="518.70" y="784.80" font-size="13.6" text-anchor="middle" >8</text>
<line x1="572.70" y1="764.80" x2="572.70" y2="771.40" stroke="#000" stroke-width="1.8"/>
<text x="572.70" y="784.80" font-size="13.6" text-anchor="middle" >12</text>
<text x="522.00" y="578.30" font-size="13.6" text-anchor="middle" >Gr-1</text>
<text transform="translate(420.00,670.50) rotate(-90)" font-size="13.6" text-anchor="middle">% peripheral blood</text>
<line x1="491.70" y1="614.85" x2="491.70" y2="596.95" stroke="#000" stroke-width="1.65"/>
<line x1="487.20" y1="614.85" x2="496.20" y2="614.85" stroke="#000" stroke-width="1.65"/>
<line x1="487.20" y1="596.95" x2="496.20" y2="596.95" stroke="#000" stroke-width="1.65"/>
<line x1="572.70" y1="648.80" x2="572.70" y2="604.41" stroke="#000" stroke-width="1.65"/>
<line x1="568.20" y1="648.80" x2="577.20" y2="648.80" stroke="#000" stroke-width="1.65"/>
<line x1="568.20" y1="604.41" x2="577.20" y2="604.41" stroke="#000" stroke-width="1.65"/>
<circle cx="491.70" cy="764.80" r="3.35" fill="none" stroke="#000" stroke-width="1.7"/>
<circle cx="572.70" cy="764.80" r="3.35" fill="none" stroke="#000" stroke-width="1.7"/>
<polyline fill="none" stroke="#000" stroke-width="1.75" points="491.70,605.90 572.70,626.79"/>
<polyline fill="none" stroke="#000" stroke-width="1.75" points="491.70,764.80 572.70,764.80"/>
<circle cx="491.70" cy="605.90" r="3.55" fill="#000"/>
<circle cx="572.70" cy="626.79" r="3.55" fill="#000"/>
<text x="608.50" y="555.30" font-size="22.5" text-anchor="start" >E</text>
<line x1="666.00" y1="577.80" x2="666.00" y2="765.40" stroke="#000" stroke-width="1.8"/>
<line x1="665.10" y1="764.50" x2="774.40" y2="764.50" stroke="#000" stroke-width="1.8"/>
<line x1="659.00" y1="578.70" x2="666.00" y2="578.70" stroke="#000" stroke-width="1.8"/>
<text x="656.80" y="579.00" font-size="13.6" text-anchor="end" >50</text>
<line x1="659.00" y1="615.86" x2="666.00" y2="615.86" stroke="#000" stroke-width="1.8"/>
<text x="656.80" y="616.16" font-size="13.6" text-anchor="end" >40</text>
<line x1="659.00" y1="653.02" x2="666.00" y2="653.02" stroke="#000" stroke-width="1.8"/>
<text x="656.80" y="653.32" font-size="13.6" text-anchor="end" >30</text>
<line x1="659.00" y1="690.18" x2="666.00" y2="690.18" stroke="#000" stroke-width="1.8"/>
<text x="656.80" y="690.48" font-size="13.6" text-anchor="end" >20</text>
<line x1="659.00" y1="727.34" x2="666.00" y2="727.34" stroke="#000" stroke-width="1.8"/>
<text x="656.80" y="727.64" font-size="13.6" text-anchor="end" >10</text>
<line x1="659.00" y1="764.50" x2="666.00" y2="764.50" stroke="#000" stroke-width="1.8"/>
<text x="656.80" y="764.80" font-size="13.6" text-anchor="end" >0</text>
<line x1="693.00" y1="764.50" x2="693.00" y2="771.50" stroke="#000" stroke-width="1.8"/>
<line x1="747.10" y1="764.50" x2="747.10" y2="771.50" stroke="#000" stroke-width="1.8"/>
<text transform="translate(634.30,670.00) rotate(-90)" font-size="13.6" text-anchor="middle">% BM LSK population</text>
<circle cx="693.00" cy="606.70" r="3.7" fill="#000"/>
<circle cx="693.00" cy="676.80" r="3.7" fill="#000"/>
<circle cx="693.00" cy="713.40" r="3.7" fill="#000"/>
<circle cx="693.00" cy="740.00" r="3.7" fill="#000"/>
<circle cx="681.80" cy="756.20" r="3.7" fill="#000"/>
<circle cx="693.00" cy="764.50" r="3.7" fill="#000"/>
<circle cx="704.00" cy="763.50" r="3.7" fill="#000"/>
<line x1="674.80" y1="717.00" x2="711.00" y2="717.00" stroke="#000" stroke-width="1.8"/>
<line x1="693.00" y1="695.00" x2="693.00" y2="739.20" stroke="#000" stroke-width="1.65"/>
<line x1="683.80" y1="695.00" x2="702.50" y2="695.00" stroke="#000" stroke-width="1.65"/>
<line x1="683.80" y1="739.20" x2="702.50" y2="739.20" stroke="#000" stroke-width="1.65"/>
<line x1="694.00" y1="580.70" x2="747.00" y2="580.70" stroke="#000" stroke-width="1.8"/>
<polygon points="719.60,565.30 720.28,567.12 722.22,567.20 720.69,568.41 721.22,570.27 719.60,569.20 717.98,570.27 718.51,568.41 716.98,567.20 718.92,567.12" fill="#000"/>
<circle cx="735.30" cy="764.50" r="3.6" fill="none" stroke="#000" stroke-width="1.8"/>
<circle cx="738.60" cy="764.50" r="3.6" fill="none" stroke="#000" stroke-width="1.8"/>
<circle cx="741.90" cy="764.50" r="3.6" fill="none" stroke="#000" stroke-width="1.8"/>
<circle cx="745.20" cy="764.50" r="3.6" fill="none" stroke="#000" stroke-width="1.8"/>
<circle cx="748.50" cy="764.50" r="3.6" fill="none" stroke="#000" stroke-width="1.8"/>
<circle cx="751.80" cy="764.50" r="3.6" fill="none" stroke="#000" stroke-width="1.8"/>
<circle cx="755.10" cy="764.50" r="3.6" fill="none" stroke="#000" stroke-width="1.8"/>
<circle cx="758.20" cy="764.50" r="3.6" fill="none" stroke="#000" stroke-width="1.8"/>
<circle cx="752.70" cy="756.10" r="3.6" fill="none" stroke="#000" stroke-width="1.8"/>
<line x1="728.80" y1="764.30" x2="764.60" y2="764.30" stroke="#000" stroke-width="1.8"/>
<line x1="747.10" y1="763.20" x2="747.10" y2="765.80" stroke="#000" stroke-width="1.65"/>
<line x1="738.00" y1="763.20" x2="756.20" y2="763.20" stroke="#000" stroke-width="1.65"/>
<line x1="738.00" y1="765.80" x2="756.20" y2="765.80" stroke="#000" stroke-width="1.65"/>
<text x="692.30" y="789.40" font-size="13.6" text-anchor="middle" ><tspan font-style="italic">Srf</tspan>+</text>
<text x="693.50" y="805.50" font-size="13.6" text-anchor="middle" >(mT)</text>
<text x="731.30" y="789.40" font-size="13.6" text-anchor="start"><tspan font-style="italic">Srf</tspan>KO<tspan dy="-7" dx="0.6" font-size="13.6">H</tspan></text>
<text x="746.50" y="805.50" font-size="13.6" text-anchor="middle" >(mG)</text>
<text x="0.50" y="822.50" font-size="22.5" text-anchor="start" >F</text>
<line x1="76.00" y1="822.40" x2="76.00" y2="1010.60" stroke="#000" stroke-width="1.8"/>
<line x1="75.10" y1="1009.70" x2="194.30" y2="1009.70" stroke="#000" stroke-width="1.8"/>
<line x1="69.00" y1="823.30" x2="76.00" y2="823.30" stroke="#000" stroke-width="1.8"/>
<text x="66.80" y="823.60" font-size="13.6" text-anchor="end" >100</text>
<line x1="69.00" y1="860.58" x2="76.00" y2="860.58" stroke="#000" stroke-width="1.8"/>
<text x="66.80" y="860.88" font-size="13.6" text-anchor="end" >80</text>
<line x1="69.00" y1="897.86" x2="76.00" y2="897.86" stroke="#000" stroke-width="1.8"/>
<text x="66.80" y="898.16" font-size="13.6" text-anchor="end" >60</text>
<line x1="69.00" y1="935.14" x2="76.00" y2="935.14" stroke="#000" stroke-width="1.8"/>
<text x="66.80" y="935.44" font-size="13.6" text-anchor="end" >40</text>
<line x1="69.00" y1="972.42" x2="76.00" y2="972.42" stroke="#000" stroke-width="1.8"/>
<text x="66.80" y="972.72" font-size="13.6" text-anchor="end" >20</text>
<line x1="69.00" y1="1009.70" x2="76.00" y2="1009.70" stroke="#000" stroke-width="1.8"/>
<text x="66.80" y="1010.00" font-size="13.6" text-anchor="end" >0</text>
<line x1="103.30" y1="1009.70" x2="103.30" y2="1016.70" stroke="#000" stroke-width="1.8"/>
<line x1="157.70" y1="1009.70" x2="157.70" y2="1016.70" stroke="#000" stroke-width="1.8"/>
<text transform="translate(38.30,914.50) rotate(-90)" font-size="13.6" text-anchor="middle">% BM LSK population</text>
<circle cx="103.30" cy="836.00" r="3.7" fill="#000"/>
<circle cx="89.30" cy="844.70" r="3.7" fill="#000"/>
<circle cx="117.30" cy="844.30" r="3.7" fill="#000"/>
<circle cx="107.30" cy="848.30" r="3.7" fill="#000"/>
<circle cx="98.70" cy="851.00" r="3.7" fill="#000"/>
<line x1="85.70" y1="844.70" x2="121.00" y2="844.70" stroke="#000" stroke-width="1.8"/>
<line x1="103.30" y1="841.70" x2="103.30" y2="847.30" stroke="#000" stroke-width="1.65"/>
<line x1="94.00" y1="841.70" x2="112.70" y2="841.70" stroke="#000" stroke-width="1.65"/>
<line x1="94.00" y1="847.30" x2="112.70" y2="847.30" stroke="#000" stroke-width="1.65"/>
<line x1="106.00" y1="817.30" x2="157.70" y2="817.30" stroke="#000" stroke-width="1.8"/>
<polygon points="124.28,806.50 124.95,808.32 126.89,808.40 125.37,809.61 125.89,811.47 124.28,810.40 122.66,811.47 123.18,809.61 121.66,808.40 123.60,808.32" fill="#000"/>
<polygon points="129.62,806.50 130.30,808.32 132.24,808.40 130.72,809.61 131.24,811.47 129.62,810.40 128.01,811.47 128.53,809.61 127.01,808.40 128.95,808.32" fill="#000"/>
<polygon points="134.98,806.50 135.65,808.32 137.59,808.40 136.07,809.61 136.59,811.47 134.98,810.40 133.36,811.47 133.88,809.61 132.36,808.40 134.30,808.32" fill="#000"/>
<polygon points="140.33,806.50 141.00,808.32 142.94,808.40 141.42,809.61 141.94,811.47 140.33,810.40 138.71,811.47 139.23,809.61 137.71,808.40 139.65,808.32" fill="#000"/>
<polygon points="151.70,978.10 147.90,985.10 155.50,985.10" fill="#000"/>
<polygon points="163.30,981.70 159.50,988.70 167.10,988.70" fill="#000"/>
<polygon points="146.70,984.10 142.90,991.10 150.50,991.10" fill="#000"/>
<polygon points="169.30,985.40 165.50,992.40 173.10,992.40" fill="#000"/>
<polygon points="158.00,993.70 154.20,1000.70 161.80,1000.70" fill="#000"/>
<line x1="140.00" y1="988.30" x2="175.70" y2="988.30" stroke="#000" stroke-width="1.8"/>
<line x1="157.70" y1="986.00" x2="157.70" y2="990.70" stroke="#000" stroke-width="1.65"/>
<line x1="148.30" y1="986.00" x2="166.70" y2="986.00" stroke="#000" stroke-width="1.65"/>
<line x1="148.30" y1="990.70" x2="166.70" y2="990.70" stroke="#000" stroke-width="1.65"/>
<text x="104.00" y="1031.30" font-size="13.6" text-anchor="middle" ><tspan font-style="italic">Srf</tspan>+</text>
<text x="104.30" y="1048.50" font-size="13.6" text-anchor="middle" >(mT)</text>
<text x="157.70" y="1031.30" font-size="13.6" text-anchor="middle" >host</text>
<line x1="265.00" y1="820.10" x2="265.00" y2="1008.60" stroke="#000" stroke-width="1.8"/>
<line x1="264.10" y1="1007.70" x2="374.00" y2="1007.70" stroke="#000" stroke-width="1.8"/>
<line x1="258.00" y1="821.00" x2="265.00" y2="821.00" stroke="#000" stroke-width="1.8"/>
<text x="255.80" y="821.30" font-size="13.6" text-anchor="end" >100</text>
<line x1="258.00" y1="858.34" x2="265.00" y2="858.34" stroke="#000" stroke-width="1.8"/>
<text x="255.80" y="858.64" font-size="13.6" text-anchor="end" >80</text>
<line x1="258.00" y1="895.68" x2="265.00" y2="895.68" stroke="#000" stroke-width="1.8"/>
<text x="255.80" y="895.98" font-size="13.6" text-anchor="end" >60</text>
<line x1="258.00" y1="933.02" x2="265.00" y2="933.02" stroke="#000" stroke-width="1.8"/>
<text x="255.80" y="933.32" font-size="13.6" text-anchor="end" >40</text>
<line x1="258.00" y1="970.36" x2="265.00" y2="970.36" stroke="#000" stroke-width="1.8"/>
<text x="255.80" y="970.66" font-size="13.6" text-anchor="end" >20</text>
<line x1="258.00" y1="1007.70" x2="265.00" y2="1007.70" stroke="#000" stroke-width="1.8"/>
<text x="255.80" y="1008.00" font-size="13.6" text-anchor="end" >0</text>
<line x1="292.70" y1="1007.70" x2="292.70" y2="1014.70" stroke="#000" stroke-width="1.8"/>
<line x1="347.30" y1="1007.70" x2="347.30" y2="1014.70" stroke="#000" stroke-width="1.8"/>
<text transform="translate(233.50,914.50) rotate(-90)" font-size="13.6" text-anchor="middle">% BM LSK population</text>
<circle cx="292.70" cy="940.30" r="3.75" fill="none" stroke="#000" stroke-width="1.8"/>
<circle cx="281.00" cy="998.70" r="3.75" fill="none" stroke="#000" stroke-width="1.8"/>
<circle cx="303.70" cy="1006.00" r="3.75" fill="none" stroke="#000" stroke-width="1.8"/>
<circle cx="292.70" cy="1008.30" r="3.75" fill="none" stroke="#000" stroke-width="1.8"/>
<line x1="274.30" y1="988.00" x2="311.00" y2="988.00" stroke="#000" stroke-width="1.8"/>
<line x1="292.70" y1="971.70" x2="292.70" y2="1004.30" stroke="#000" stroke-width="1.65"/>
<line x1="283.30" y1="971.70" x2="302.00" y2="971.70" stroke="#000" stroke-width="1.65"/>
<line x1="283.30" y1="1004.30" x2="302.00" y2="1004.30" stroke="#000" stroke-width="1.65"/>
<polygon points="335.70,821.40 331.90,828.40 339.50,828.40" fill="#000"/>
<polygon points="358.00,818.10 354.20,825.10 361.80,825.10" fill="#000"/>
<polygon points="347.00,828.10 343.20,835.10 350.80,835.10" fill="#000"/>
<polygon points="347.00,887.40 343.20,894.40 350.80,894.40" fill="#000"/>
<line x1="329.00" y1="841.70" x2="365.00" y2="841.70" stroke="#000" stroke-width="1.8"/>
<line x1="347.30" y1="826.00" x2="347.30" y2="858.00" stroke="#000" stroke-width="1.65"/>
<line x1="337.70" y1="826.00" x2="356.70" y2="826.00" stroke="#000" stroke-width="1.65"/>
<line x1="337.70" y1="858.00" x2="356.70" y2="858.00" stroke="#000" stroke-width="1.65"/>
<line x1="297.70" y1="817.70" x2="349.30" y2="817.70" stroke="#000" stroke-width="1.8"/>
<polygon points="315.65,806.50 316.33,808.32 318.27,808.40 316.74,809.61 317.27,811.47 315.65,810.40 314.03,811.47 314.56,809.61 313.03,808.40 314.97,808.32" fill="#000"/>
<polygon points="321.00,806.50 321.68,808.32 323.62,808.40 322.09,809.61 322.62,811.47 321.00,810.40 319.38,811.47 319.91,809.61 318.38,808.40 320.32,808.32" fill="#000"/>
<polygon points="326.35,806.50 327.03,808.32 328.97,808.40 327.44,809.61 327.97,811.47 326.35,810.40 324.73,811.47 325.26,809.61 323.73,808.40 325.67,808.32" fill="#000"/>
<text x="278.30" y="1032.00" font-size="13.6" text-anchor="start">KO<tspan dy="-7" dx="0.6" font-size="13.6">H</tspan></text>
<text x="293.30" y="1048.50" font-size="13.6" text-anchor="middle" >(mG)</text>
<text x="347.70" y="1031.30" font-size="13.6" text-anchor="middle" >host</text>
<line x1="450.70" y1="820.10" x2="450.70" y2="1008.20" stroke="#000" stroke-width="1.8"/>
<line x1="449.80" y1="1007.30" x2="614.30" y2="1007.30" stroke="#000" stroke-width="1.8"/>
<line x1="443.70" y1="821.00" x2="450.70" y2="821.00" stroke="#000" stroke-width="1.8"/>
<text x="441.50" y="821.30" font-size="13.6" text-anchor="end" >100</text>
<line x1="443.70" y1="858.26" x2="450.70" y2="858.26" stroke="#000" stroke-width="1.8"/>
<text x="441.50" y="858.56" font-size="13.6" text-anchor="end" >80</text>
<line x1="443.70" y1="895.52" x2="450.70" y2="895.52" stroke="#000" stroke-width="1.8"/>
<text x="441.50" y="895.82" font-size="13.6" text-anchor="end" >60</text>
<line x1="443.70" y1="932.78" x2="450.70" y2="932.78" stroke="#000" stroke-width="1.8"/>
<text x="441.50" y="933.08" font-size="13.6" text-anchor="end" >40</text>
<line x1="443.70" y1="970.04" x2="450.70" y2="970.04" stroke="#000" stroke-width="1.8"/>
<text x="441.50" y="970.34" font-size="13.6" text-anchor="end" >20</text>
<line x1="443.70" y1="1007.30" x2="450.70" y2="1007.30" stroke="#000" stroke-width="1.8"/>
<text x="441.50" y="1007.60" font-size="13.6" text-anchor="end" >0</text>
<line x1="479.30" y1="1007.30" x2="479.30" y2="1014.30" stroke="#000" stroke-width="1.8"/>
<line x1="535.70" y1="1007.30" x2="535.70" y2="1014.30" stroke="#000" stroke-width="1.8"/>
<line x1="592.30" y1="1007.30" x2="592.30" y2="1014.30" stroke="#000" stroke-width="1.8"/>
<text transform="translate(419.50,914.50) rotate(-90)" font-size="13.6" text-anchor="middle">% BM LSK population</text>
<circle cx="479.30" cy="900.70" r="3.7" fill="#000"/>
<circle cx="479.30" cy="918.00" r="3.7" fill="#000"/>
<circle cx="479.30" cy="950.00" r="3.7" fill="#000"/>
<circle cx="479.30" cy="991.00" r="3.7" fill="#000"/>
<circle cx="479.30" cy="1007.30" r="3.7" fill="#000"/>
<line x1="460.70" y1="953.00" x2="497.70" y2="953.00" stroke="#000" stroke-width="1.8"/>
<line x1="479.30" y1="933.00" x2="479.30" y2="973.30" stroke="#000" stroke-width="1.65"/>
<line x1="470.00" y1="933.00" x2="489.00" y2="933.00" stroke="#000" stroke-width="1.65"/>
<line x1="470.00" y1="973.30" x2="489.00" y2="973.30" stroke="#000" stroke-width="1.65"/>
<circle cx="530.30" cy="987.30" r="3.75" fill="none" stroke="#000" stroke-width="1.8"/>
<circle cx="525.00" cy="996.00" r="3.75" fill="none" stroke="#000" stroke-width="1.8"/>
<circle cx="541.70" cy="994.00" r="3.75" fill="none" stroke="#000" stroke-width="1.8"/>
<circle cx="546.70" cy="1002.30" r="3.75" fill="none" stroke="#000" stroke-width="1.8"/>
<circle cx="535.70" cy="1006.00" r="3.75" fill="none" stroke="#000" stroke-width="1.8"/>
<line x1="517.30" y1="997.00" x2="554.30" y2="997.00" stroke="#000" stroke-width="1.8"/>
<line x1="535.70" y1="994.70" x2="535.70" y2="1000.00" stroke="#000" stroke-width="1.65"/>
<line x1="526.00" y1="994.70" x2="545.30" y2="994.70" stroke="#000" stroke-width="1.65"/>
<line x1="526.00" y1="1000.00" x2="545.30" y2="1000.00" stroke="#000" stroke-width="1.65"/>
<polygon points="592.30,823.40 588.50,830.40 596.10,830.40" fill="#000"/>
<polygon points="592.30,855.40 588.50,862.40 596.10,862.40" fill="#000"/>
<polygon points="592.30,890.40 588.50,897.40 596.10,897.40" fill="#000"/>
<polygon points="592.30,908.70 588.50,915.70 596.10,915.70" fill="#000"/>
<polygon points="592.30,937.70 588.50,944.70 596.10,944.70" fill="#000"/>
<line x1="573.30" y1="886.00" x2="610.70" y2="886.00" stroke="#000" stroke-width="1.8"/>
<line x1="592.30" y1="866.00" x2="592.30" y2="906.00" stroke="#000" stroke-width="1.65"/>
<line x1="582.70" y1="866.00" x2="601.70" y2="866.00" stroke="#000" stroke-width="1.65"/>
<line x1="582.70" y1="906.00" x2="601.70" y2="906.00" stroke="#000" stroke-width="1.65"/>
<text x="477.30" y="1031.70" font-size="13.6" text-anchor="middle" ><tspan font-style="italic">Srf</tspan>+</text>
<text x="477.30" y="1049.30" font-size="13.6" text-anchor="middle" >(mT)</text>
<text x="518.30" y="1032.00" font-size="13.6" text-anchor="start">KO<tspan dy="-7" dx="0.6" font-size="13.6">H</tspan></text>
<text x="532.30" y="1049.30" font-size="13.6" text-anchor="middle" >(mG)</text>
<text x="588.30" y="1031.70" font-size="13.6" text-anchor="middle" >host</text>
<text x="455.7" y="1074" font-size="13.6" text-anchor="start">5% <tspan font-style="italic">Srf</tspan>+/95%KO<tspan dy="-7" dx="0.6" font-size="13.6">H</tspan><tspan dy="7"> donor</tspan></text>
</svg>
</body></html>
